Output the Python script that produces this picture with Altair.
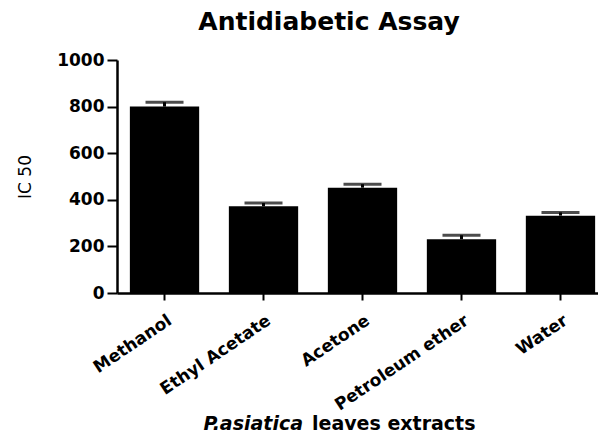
import altair as alt
import pandas as pd

# Data
extracts = ["Methanol", "Ethyl Acetate", "Acetone", "Petroleum ether", "Water"]
ic50 = [800, 372, 452, 231, 332]
sem = [19, 14, 15, 17, 14]
y_ticks = [0, 200, 400, 600, 800, 1000]

title_text = "Antidiabetic Assay"
xtitle_italic = "P.asiatica"
xtitle_rest = "leaves extracts"
ytitle = "IC 50"

df = pd.DataFrame({"extract": extracts, "ic50": ic50, "sem": sem})
df["upper"] = df["ic50"] + df["sem"]

FONT = "DejaVu Sans"

x = alt.X(
    "extract:N",
    sort=extracts,
    scale=alt.Scale(range=[0, 491], paddingInner=0.3, paddingOuter=0.13),
    axis=alt.Axis(
        title=None,
        labelAngle=-34,
        labelAlign="right",
        labelBaseline="top",
        labelPadding=12,
        labelOffset=1,
        labelFont=FONT,
        labelFontWeight="bold",
        labelFontSize=17,
        labelColor="black",
        tickSize=7,
        tickWidth=2,
        tickColor="black",
        domainColor="black",
        domainWidth=2.5,
    ),
)

y_scale = alt.Scale(domain=[0, 1000], nice=False)

bars = alt.Chart(df).mark_bar(color="black").encode(
    x=x,
    y=alt.Y(
        "ic50:Q",
        scale=y_scale,
        axis=alt.Axis(
            values=y_ticks,
            format="d",
            title=ytitle,
            titleFont=FONT,
            titleFontSize=17,
            titleFontWeight="normal",
            titleColor="black",
            titleX=-92,
            titleY=116.5,
            titleBaseline="middle",
            labelFont=FONT,
            labelFontWeight="bold",
            labelFontSize=17,
            labelColor="black",
            labelPadding=3,
            tickSize=10,
            tickWidth=2,
            tickColor="black",
            domainColor="black",
            domainWidth=2.5,
        ),
    ),
)

err_line = alt.Chart(df).mark_rule(color="black", strokeWidth=3).encode(
    x=alt.X("extract:N", sort=extracts),
    y=alt.Y("ic50:Q", scale=y_scale),
    y2="upper:Q",
)

caps = alt.Chart(df).mark_tick(color="black", size=38, thickness=3).encode(
    x=alt.X("extract:N", sort=extracts),
    y=alt.Y("upper:Q", scale=y_scale),
)

title_df = pd.DataFrame({"t": [title_text]})
title = alt.Chart(title_df).mark_text(
    font=FONT, fontSize=25, fontWeight="bold", color="black",
    align="center", baseline="alphabetic",
).encode(text="t:N", x=alt.value(212), y=alt.value(-30))

xt1 = alt.Chart(pd.DataFrame({"t": [xtitle_italic]})).mark_text(
    font=FONT, fontSize=19, fontWeight="bold", fontStyle="italic", color="black",
    align="right", baseline="alphabetic",
).encode(text="t:N", x=alt.value(186), y=alt.value(370))

xt2 = alt.Chart(pd.DataFrame({"t": [xtitle_rest]})).mark_text(
    font=FONT, fontSize=19, fontWeight="bold", color="black",
    align="left", baseline="alphabetic",
).encode(text="t:N", x=alt.value(195), y=alt.value(370))

chart = alt.layer(bars, err_line, caps, title, xt1, xt2).properties(
    width=481,
    height=233,
    autosize=alt.AutoSizeParams(type="none"),
    padding={"left": 109, "top": 52, "right": 0, "bottom": 142},
    background="white",
).configure_view(stroke=None).configure_axis(grid=False)

chart.save("out.html", embed_options={"renderer": "svg", "actions": False})
